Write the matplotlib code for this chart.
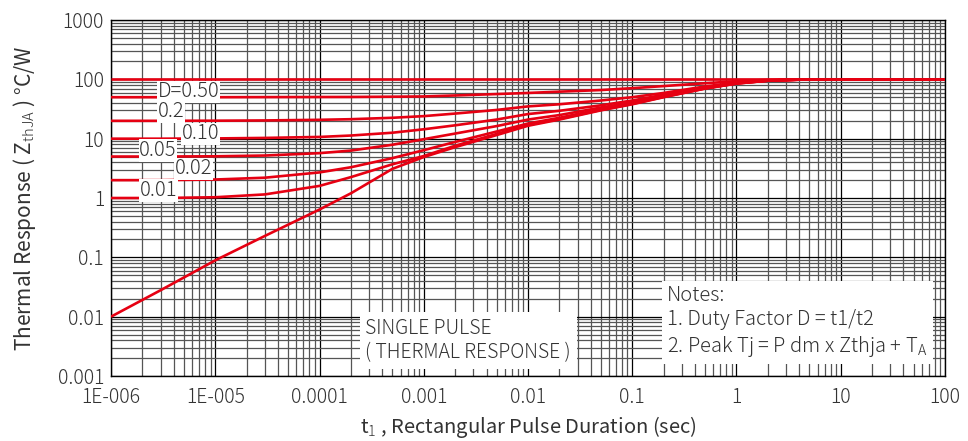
import numpy as np
import matplotlib
matplotlib.use("Agg")
import matplotlib.pyplot as plt
from matplotlib.ticker import LogLocator, NullFormatter

# pulse duration (s) and thermal response curves (degC/W)
t = [1e-6, 3e-6, 1e-5, 3e-5, 1e-4, 2e-4, 5e-4, 1e-3, 2e-3, 5e-3,
     1e-2, 2e-2, 5e-2, 1e-1, 2e-1, 5e-1, 1, 2, 5, 10, 100]
z_d100 = [100] * 21
z_d050 = [50, 50, 50, 50.2, 50.4, 50.5, 51, 51.5, 53.5, 56.5,
          59, 62, 66, 71, 77, 86, 93, 98, 100, 100, 100]
z_d020 = [20, 20, 20.1, 20.3, 20.8, 21.3, 22.5, 24, 26.5, 30.5,
          35, 38, 44, 50, 59, 76, 88, 96, 100, 100, 100]
z_d010 = [10, 10, 10.1, 10.3, 10.7, 11.3, 12.6, 14.4, 16.8, 21,
          26, 29.5, 36.5, 44, 55, 73.5, 87, 96, 100, 100, 100]
z_d005 = [5, 5, 5.05, 5.2, 5.7, 6.3, 7.9, 9.8, 12.2, 16.3,
          21, 25, 33.5, 41, 52.5, 72, 86, 95.5, 100, 100, 100]
z_d002 = [2, 2, 2.05, 2.2, 2.7, 3.3, 4.7, 6.4, 8.8, 13.2,
          18, 22.5, 31.5, 39.5, 51, 71, 85.5, 95, 100, 100, 100]
z_d001 = [1, 1, 1.03, 1.15, 1.6, 2.25, 3.7, 5.1, 7.6, 12,
          17, 21.5, 30.5, 38.5, 50.5, 70, 85, 95, 100, 100, 100]
z_single = [0.01, 0.028, 0.089, 0.23, 0.64, 1.2, 3.1, 4.9, 7.2, 11.5,
            16.5, 21, 30, 38, 50, 70, 85, 95, 100, 100, 100]

curves = [z_d100, z_d050, z_d020, z_d010, z_d005, z_d002, z_d001, z_single]

x_ticks = [1e-6, 1e-5, 1e-4, 1e-3, 1e-2, 1e-1, 1, 10, 100]
x_labels = ["1E-006", "1E-005", "0.0001", "0.001", "0.01", "0.1", "1", "10", "100"]
y_ticks = [1e-3, 1e-2, 1e-1, 1, 10, 100, 1000]
y_labels = ["0.001", "0.01", "0.1", "1", "10", "100", "1000"]

FONT = ["Noto Sans CJK JP", "DejaVu Sans"]
plt.rcParams["font.family"] = FONT
plt.rcParams["font.weight"] = "light"
plt.rcParams["mathtext.fontset"] = "custom"
plt.rcParams["mathtext.rm"] = "Noto Sans CJK JP"
plt.rcParams["mathtext.it"] = "Noto Sans CJK JP"
TXT = "#333333"
RED = "#e60012"

fig = plt.figure(figsize=(9.68, 4.41), dpi=100)
ax = fig.add_axes([0.1147, 0.1474, 0.8615, 0.8072])

for z in curves:
    ax.plot(t, z, color=RED, lw=1.9, zorder=3, solid_capstyle="butt")

ax.set_xscale("log")
ax.set_yscale("log")
ax.set_xlim(1e-6, 100)
ax.set_ylim(1e-3, 1000)

for axis in (ax.xaxis, ax.yaxis):
    axis.set_major_locator(LogLocator(base=10, numticks=100))
    axis.set_minor_locator(LogLocator(base=10, subs=np.arange(2, 10), numticks=100))
    axis.set_minor_formatter(NullFormatter())
ax.set_xticks(x_ticks)
ax.set_xticklabels(x_labels)
ax.set_yticks(y_ticks)
ax.set_yticklabels(y_labels)

ax.grid(which="major", color="black", lw=0.9)
ax.grid(which="minor", color="#555555", lw=0.9)
ax.set_axisbelow(True)
ax.tick_params(which="both", length=0, labelsize=14, colors=TXT)
ax.tick_params(axis="x", pad=8)
ax.tick_params(axis="y", pad=5)
for s in ax.spines.values():
    s.set_color("black")
    s.set_linewidth(1.0)

ax.set_xlabel("t$_1$ , Rectangular Pulse Duration (sec)", fontsize=14.5, color=TXT, labelpad=4)
ax.set_ylabel("Thermal Response ( Z$_{\\mathrm{thJA}}$ ) °C/W", fontsize=15, color=TXT, labelpad=14)

box = dict(facecolor="white", edgecolor="none", pad=0.5)
lbl = dict(fontsize=14.5, color=TXT, va="center", ha="left", bbox=box, zorder=5)
ax.text(2.8e-6, 62, "D=0.50", **lbl)
ax.text(2.8e-6, 28.5, "0.2", **lbl)
ax.text(4.8e-6, 12.1, "0.10", **lbl)
ax.text(1.86e-6, 6.3, "0.05", **lbl)
ax.text(4.1e-6, 3.1, "0.02", **lbl)
ax.text(1.9e-6, 1.34, "0.01", **lbl)

ax.text(0.305, 0.10, "SINGLE PULSE\n( THERMAL RESPONSE )", transform=ax.transAxes,
        fontsize=14, color=TXT, va="center", ha="left", linespacing=1.2,
        bbox=dict(facecolor="white", edgecolor="none", pad=4), zorder=5)

ax.text(0.667, 0.152, "Notes:\n1. Duty Factor D = t1/t2\n2. Peak Tj = P dm x Zthja + T$_\\mathrm{A}$",
        transform=ax.transAxes, fontsize=14.5, color=TXT, va="center", ha="left",
        linespacing=1.2, bbox=dict(facecolor="white", edgecolor="none", pad=4), zorder=5)

fig.savefig("out.png", dpi=100)
